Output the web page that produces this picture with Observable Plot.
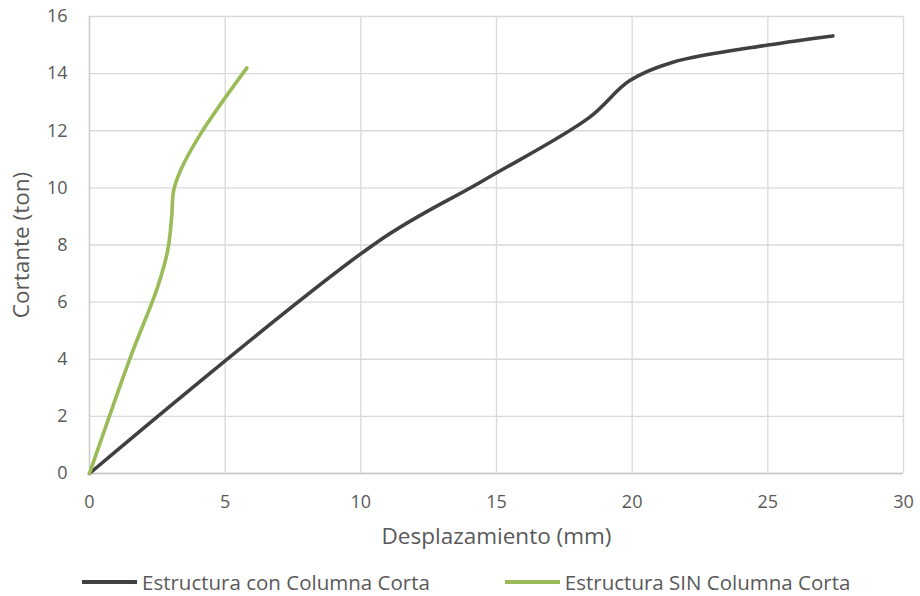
<!DOCTYPE html>
<html>
<head>
<meta charset="utf-8">
<script src="https://cdn.jsdelivr.net/npm/d3@7"></script>
<script src="https://cdn.jsdelivr.net/npm/@observablehq/plot@0.6"></script>
<style>
  body { margin: 0; background: #fff; font-family: "Open Sans", sans-serif; }
  #chart { width: 920px; }
  .legend { display: flex; justify-content: flex-start; gap: 75px; height: 36px; align-items: center; color: #595959; font-size: 20.5px; margin-top: 4px; padding-left: 82px; white-space: nowrap; }
  .item { display: flex; align-items: center; }
  .sw { width: 55px; height: 4px; display: inline-block; margin-right: 5px; }
</style>
</head>
<body>
<div id="chart"></div>
<script>
const seriesNames = ["Estructura con Columna Corta", "Estructura SIN Columna Corta"];
const colors = ["#404040", "#9BBB59"];
const conX = [0, 10.6, 14.5, 18.4, 19.9, 21.5, 25.0, 27.4];
const conY = [0, 8.1, 10.25, 12.45, 13.75, 14.4, 15.0, 15.32];
const sinX = [0, 1.5, 2.5, 2.88, 3.03, 3.1, 3.35, 4.1, 5.8];
const sinY = [0, 4.05, 6.5, 7.8, 9.0, 9.9, 10.6, 11.9, 14.2];
const xTicks = [0, 5, 10, 15, 20, 25, 30];
const yTicks = [0, 2, 4, 6, 8, 10, 12, 14, 16];
const xTitle = "Desplazamiento (mm)";
const yTitle = "Cortante (ton)";

const con = conX.map((x, i) => ({x, y: conY[i]}));
const sin = sinX.map((x, i) => ({x, y: sinY[i]}));

const plot = Plot.plot({
  width: 920,
  height: 560,
  marginLeft: 89,
  marginRight: 17,
  marginTop: 16,
  marginBottom: 87,
  style: {fontFamily: "Open Sans, sans-serif", fontSize: "18px", color: "#595959", background: "#fff"},
  x: {domain: [0, 30]},
  y: {domain: [0, 16]},
  marks: [
    Plot.gridX(xTicks, {stroke: "#d9d9d9", strokeOpacity: 1, strokeWidth: 1.3}),
    Plot.gridY(yTicks, {stroke: "#d9d9d9", strokeOpacity: 1, strokeWidth: 1.3}),
    Plot.ruleX([0], {stroke: "#c8c8c8", strokeWidth: 1.3}),
    Plot.ruleY([0], {stroke: "#c8c8c8", strokeWidth: 1.3}),
    Plot.axisX({ticks: xTicks, tickSize: 0, tickPadding: 22, label: null, fontSize: 18}),
    Plot.axisX({ticks: [], tickSize: 0, label: xTitle, labelAnchor: "center", labelArrow: "none", labelOffset: 70, fontSize: 22.5}),
    Plot.axisY({ticks: yTicks, tickSize: 0, tickPadding: 22, label: null, fontSize: 18}),
    Plot.axisY({ticks: [], tickSize: 0, label: yTitle, labelAnchor: "center", labelArrow: "none", labelOffset: 76, fontSize: 22.5}),
    Plot.line(con, {x: "x", y: "y", stroke: colors[0], strokeWidth: 3.6, curve: "catmull-rom"}),
    Plot.line(sin, {x: "x", y: "y", stroke: colors[1], strokeWidth: 3.6, curve: "catmull-rom"})
  ]
});
document.getElementById("chart").appendChild(plot);

const leg = document.createElement("div");
leg.className = "legend";
seriesNames.forEach((n, i) => {
  const it = document.createElement("div");
  it.className = "item";
  const sw = document.createElement("span");
  sw.className = "sw";
  sw.style.background = colors[i];
  const t = document.createElement("span");
  t.textContent = n;
  it.appendChild(sw);
  it.appendChild(t);
  leg.appendChild(it);
});
document.getElementById("chart").appendChild(leg);
</script>
</body>
</html>
